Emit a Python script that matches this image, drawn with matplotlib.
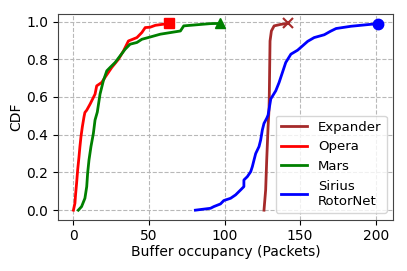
import matplotlib
matplotlib.use("Agg")
import matplotlib.pyplot as plt
import numpy as np

# Data
opera_x = [0, 1, 1.4, 2.1, 2.8, 3.7, 4.3, 5.0, 5.9, 7.0, 7.6, 8.8, 11, 14.3, 15.4, 18.7, 20.9, 25.4, 29.8, 33.1, 36.4, 42, 45.3, 47.5, 50.8, 54.2, 59.7, 63]
opera_y = [0, 0.037, 0.081, 0.143, 0.213, 0.284, 0.337, 0.39, 0.442, 0.495, 0.518, 0.53, 0.562, 0.615, 0.659, 0.677, 0.704, 0.757, 0.80, 0.844, 0.897, 0.915, 0.942, 0.968, 0.97, 0.98, 0.986, 0.99]

mars_x = [3.2, 5.4, 7.6, 8.8, 9.4, 10.3, 11.6, 13.2, 14.3, 15.8, 17.6, 19.8, 22.1, 24.3, 27.6, 30.9, 34.2, 37.5, 42, 45.3, 50.8, 57.5, 70.8, 73, 90.7, 96.7]
mars_y = [0, 0.019, 0.063, 0.125, 0.196, 0.266, 0.337, 0.407, 0.478, 0.52, 0.615, 0.686, 0.739, 0.757, 0.783, 0.818, 0.853, 0.88, 0.889, 0.906, 0.918, 0.933, 0.95, 0.977, 0.989, 0.99]

expander_x = [126.1, 127.2, 127.9, 128.8, 129.4, 129.6, 130.1, 131.0, 132.8, 137.2, 142]
expander_y = [0, 0.107, 0.266, 0.442, 0.53, 0.6, 0.897, 0.95, 0.977, 0.985, 0.99]

sirius_x = [80.7, 90.7, 92.9, 97.3, 99.5, 104, 107.3, 110.6, 112.8, 112.8, 115.1, 117.3, 118.4, 119.5, 120.6, 122.8, 123.9, 125, 126.1, 127.9, 128.8, 130.6, 133.9, 136.1, 138.3, 140.5, 143.9, 148.3, 151.6, 155, 159.3, 166, 170, 173.8, 183.7, 201.5]
sirius_y = [0, 0.01, 0.019, 0.033, 0.051, 0.063, 0.081, 0.107, 0.125, 0.16, 0.178, 0.204, 0.231, 0.266, 0.30, 0.337, 0.372, 0.425, 0.46, 0.487, 0.504, 0.59, 0.633, 0.677, 0.73, 0.783, 0.827, 0.848, 0.871, 0.895, 0.915, 0.93, 0.948, 0.963, 0.975, 0.989]

series = [
    ("Expander", expander_x, expander_y, "#a52a2a", "x"),
    ("Opera", opera_x, opera_y, "#ff0000", "s"),
    ("Mars", mars_x, mars_y, "#008000", "^"),
    ("Sirius\nRotorNet", sirius_x, sirius_y, "#0000ff", "o"),
]

plt.rcParams['font.family'] = ['DejaVu Sans']
fig, ax = plt.subplots(figsize=(4.07, 2.71), dpi=100)
fig.subplots_adjust(left=0.143, right=0.966, top=0.948, bottom=0.19)

for name, xs, ys, c, m in series:
    ax.plot(xs, ys, color=c, lw=2, label=name)
    ax.plot([xs[-1]], [ys[-1]], marker=m, color=c, ms=7.5,
            mew=1.5 if m == "x" else 1, linestyle="none")

ax.grid(True, linestyle="--", color="#b8b8b8", lw=0.8)
ax.set_xticks([0, 50, 100, 150, 200])
ax.set_yticks([0.0, 0.2, 0.4, 0.6, 0.8, 1.0])
ax.tick_params(labelsize=10)
ax.set_xlabel("Buffer occupancy (Packets)", fontsize=10, labelpad=1)
ax.set_ylabel("CDF", fontsize=10, labelpad=2)
ax.legend(loc="lower right", fontsize=9.5, handlelength=2.0)
for s in ax.spines.values():
    s.set_color("#444444")

fig.savefig("out.png", dpi=100)
